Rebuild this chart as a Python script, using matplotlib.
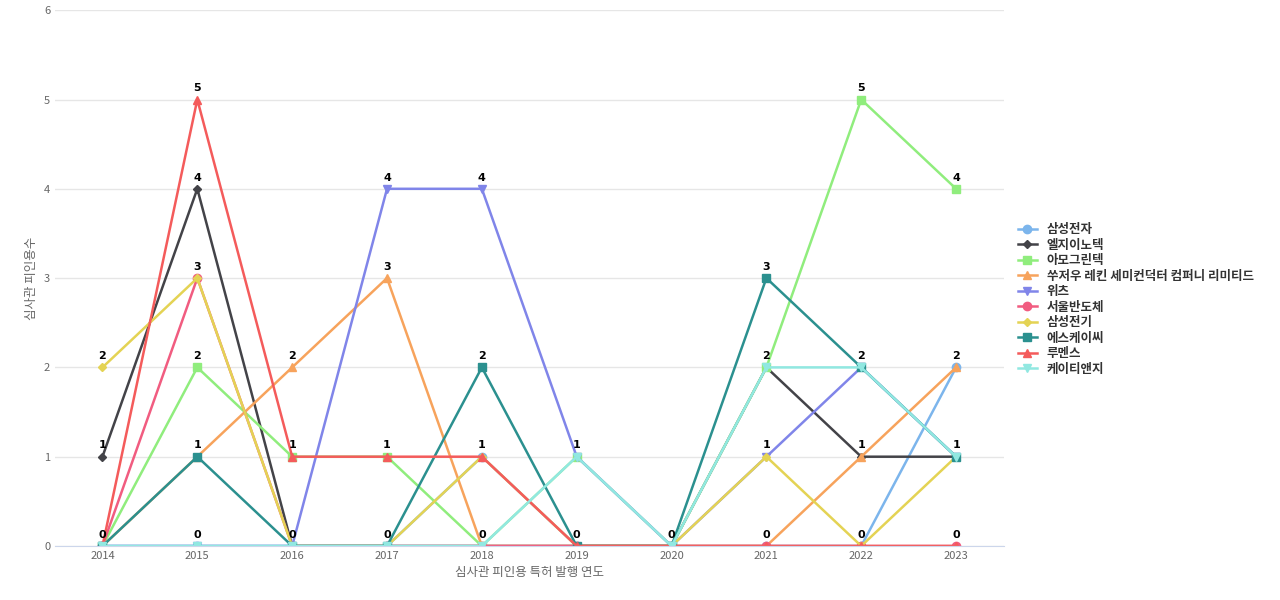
import matplotlib.pyplot as plt

plt.rcParams['font.family'] = ['Noto Sans CJK KR', 'DejaVu Sans']

years = [2014, 2015, 2016, 2017, 2018, 2019, 2020, 2021, 2022, 2023]
names = ["삼성전자", "엘지이노텍", "아모그린텍", "쑤저우 레킨 세미컨덕터 컴퍼니 리미티드",
         "위츠", "서울반도체", "삼성전기", "에스케이씨", "루멘스", "케이티앤지"]
samsung = [0, 0, 0, 0, 1, 0, 0, 0, 0, 2]
lg = [1, 4, 0, 0, 0, 0, 0, 2, 1, 1]
amo = [0, 2, 1, 1, 0, 1, 0, 2, 5, 4]
suzhou = [0, 1, 2, 3, 0, 0, 0, 0, 1, 2]
wits = [0, 0, 0, 4, 4, 1, 0, 1, 2, 1]
seoul = [0, 3, 0, 0, 0, 0, 0, 0, 0, 0]
semco = [2, 3, 0, 0, 1, 0, 0, 1, 0, 1]
skc = [0, 1, 0, 0, 2, 0, 0, 3, 2, 1]
lumens = [0, 5, 1, 1, 1, 0, 0, 0, 0, 0]
ktng = [0, 0, 0, 0, 0, 1, 0, 2, 2, 1]
series = [samsung, lg, amo, suzhou, wits, seoul, semco, skc, lumens, ktng]
colors = ["#7cb5ec", "#434348", "#90ed7d", "#f7a35c", "#8085e9",
          "#f15c80", "#e4d354", "#2b908f", "#f45b5b", "#91e8e1"]
markers = ["o", "D", "s", "^", "v", "o", "D", "s", "^", "v"]

fig = plt.figure(figsize=(12.8, 6), dpi=100)
ax = fig.add_axes([0.043, 0.09, 0.741, 0.893])

for vals, name, c, m in zip(series, names, colors, markers):
    ax.plot(years, vals, color=c, marker=m, markersize=6 if m != "D" else 4.5,
            linewidth=1.8, label=name)

# value labels: one per distinct value at each year
for i, yr in enumerate(years):
    for v in sorted(set(s[i] for s in series)):
        ax.text(yr, v + 0.07, str(v), ha="center", va="bottom",
                fontsize=8, fontweight="bold", family="DejaVu Sans")

ax.set_ylim(0, 6)
ax.set_xlim(2013.5, 2023.5)
ax.set_xticks(years)
ax.set_yticks(range(7))
ax.grid(axis="y", color="#e6e6e6", linewidth=1)
ax.set_axisbelow(True)
for s in ["top", "right", "left"]:
    ax.spines[s].set_visible(False)
ax.spines["bottom"].set_color("#ccd6eb")
ax.tick_params(length=0, labelsize=8, colors="#666666")
ax.set_xlabel("심사관 피인용 특허 발행 연도", fontsize=9, color="#666666")
ax.set_ylabel("심사관 피인용수", fontsize=9, color="#666666")

leg = ax.legend(loc="center left", bbox_to_anchor=(1.01, 0.46), frameon=False,
                fontsize=9, handlelength=1.5, labelspacing=0.2, borderaxespad=0)
for t in leg.get_texts():
    t.set_fontweight("bold")
    t.set_color("#333333")

fig.savefig("out.png")
